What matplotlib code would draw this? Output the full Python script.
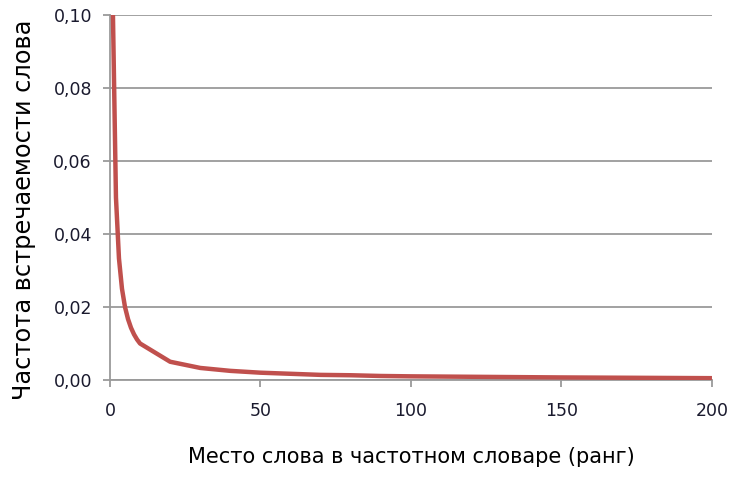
import matplotlib
matplotlib.use("Agg")
import matplotlib.pyplot as plt
from matplotlib.ticker import FuncFormatter

# ── Данные (ранг слова и его частота) ─────────────────────────
ranks = [1, 2, 3, 4, 5, 6, 7, 8, 9, 10,
         20, 30, 40, 50, 60, 70, 80, 90, 100, 150, 200]
freqs = [0.1, 0.05, 0.0333, 0.025, 0.02, 0.0167, 0.0143, 0.0125, 0.0111, 0.01,
         0.005, 0.0033, 0.0025, 0.002, 0.0017, 0.0014, 0.0013, 0.0011, 0.001,
         0.0007, 0.0005]

x_ticks = [0, 50, 100, 150, 200]
y_ticks = [0.0, 0.02, 0.04, 0.06, 0.08, 0.10]

GRID = "#9a9a9a"
LINE = "#c0504d"

fig = plt.figure(figsize=(7.53, 4.79), dpi=100)
ax = fig.add_axes([0.146, 0.2067, 0.7995, 0.762])

ax.plot(ranks, freqs, color=LINE, lw=3.2, solid_capstyle="butt",
        solid_joinstyle="round", zorder=3)

ax.set_xlim(0, 200)
ax.set_ylim(0, 0.10)
ax.set_xticks(x_ticks)
ax.set_yticks(y_ticks)
ax.yaxis.set_major_formatter(FuncFormatter(lambda v, p: f"{v:.2f}".replace(".", ",")))

ax.grid(axis="y", color=GRID, lw=1.3)
ax.set_axisbelow(True)
for s in ("top", "right"):
    ax.spines[s].set_visible(False)
for s in ("left", "bottom"):
    ax.spines[s].set_color(GRID)
    ax.spines[s].set_linewidth(1.3)
ax.tick_params(axis="both", color=GRID, width=1.3, length=5,
               labelsize=12.5, labelcolor="#1a1a2e")
ax.tick_params(axis="x", pad=11)
ax.tick_params(axis="y", pad=8)

ax.set_xlabel("Место слова в частотном словаре (ранг)", fontsize=15, labelpad=19)
ax.set_ylabel("Частота встречаемости слова", fontsize=17.3)
ax.yaxis.set_label_coords(-0.122, 0.466)

fig.savefig("out.png", dpi=100)
